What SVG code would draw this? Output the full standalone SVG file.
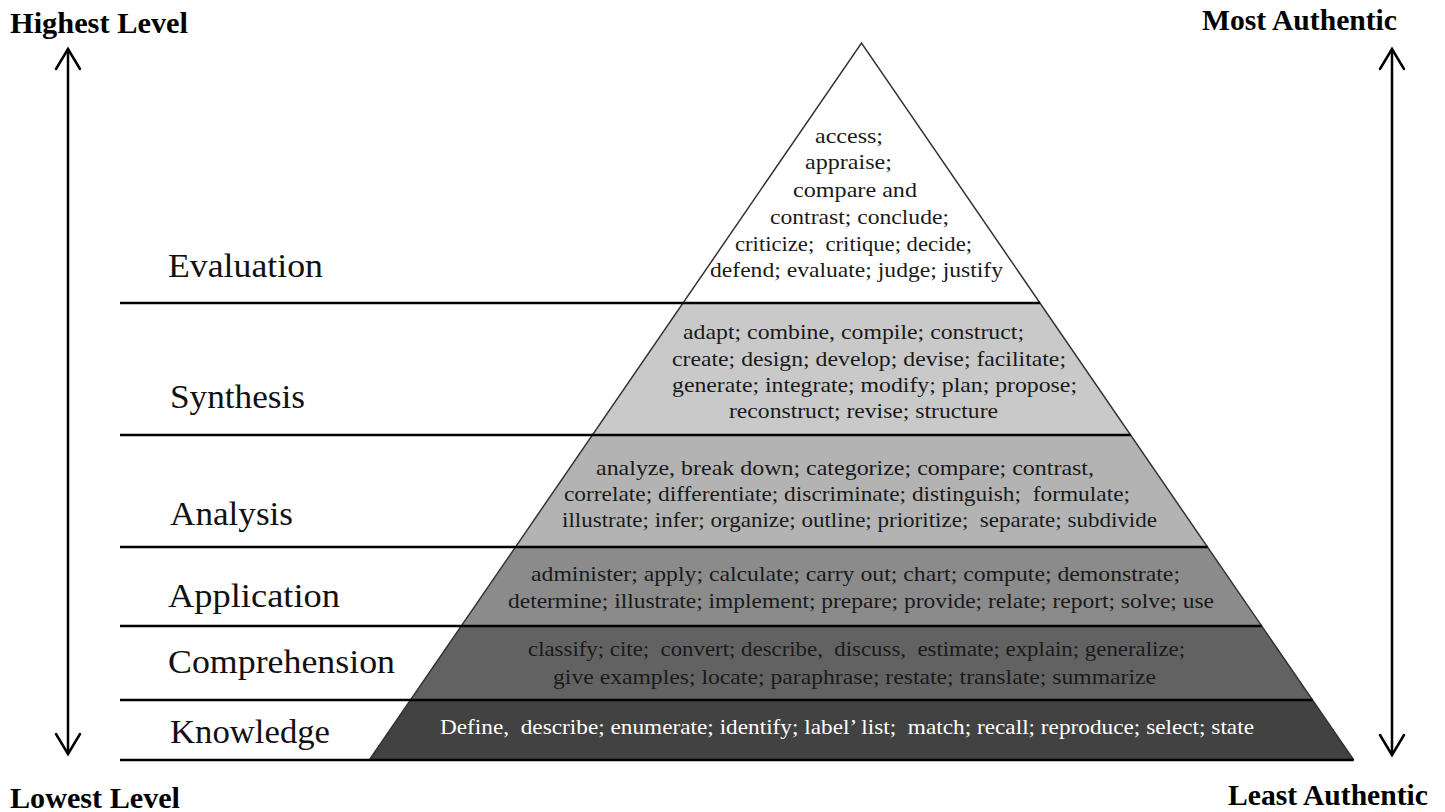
<svg xmlns="http://www.w3.org/2000/svg" width="1445" height="812" viewBox="0 0 1445 812">
  <style>
    .corner { font-family: "Liberation Serif", "Times New Roman", serif; font-size: 29px; font-weight: bold; fill: #000; }
    .level { font-family: "Liberation Serif", "Times New Roman", serif; font-size: 33px; fill: #111; }
    .verbs { font-family: "Liberation Serif", "Times New Roman", serif; font-size: 22px; fill: #1a1a1a; white-space: pre; }
    .verbs-light { font-family: "Liberation Serif", "Times New Roman", serif; font-size: 21px; fill: #fff; white-space: pre; }
    .rule { stroke: #000; stroke-width: 2.5; fill: none; }
    .edge { stroke: #333; stroke-width: 1.5; fill: none; }
    .axis { stroke: #000; stroke-width: 2.5; fill: none; }
    .head { stroke: #000; stroke-width: 2.5; fill: none; stroke-linejoin: miter; stroke-linecap: round; }
  </style>
  <defs>
    <!-- open V head pointing along the path direction -->
    <marker id="chevron" markerUnits="userSpaceOnUse" viewBox="-23 -15 26 30" refX="0" refY="0" markerWidth="26" markerHeight="30" orient="auto-start-reverse">
      <path d="M -20 -12 L 0 0 L -20 12" class="head"/>
    </marker>
  </defs>

  <rect width="1445" height="812" fill="#fff"/>

  <!-- corner captions -->
  <text class="corner" x="10" y="33" textLength="178" lengthAdjust="spacingAndGlyphs">Highest Level</text>
  <text class="corner" x="1202" y="30" textLength="195" lengthAdjust="spacingAndGlyphs">Most Authentic</text>
  <text class="corner" x="10" y="808" textLength="170" lengthAdjust="spacingAndGlyphs">Lowest Level</text>
  <text class="corner" x="1228" y="805" textLength="200" lengthAdjust="spacingAndGlyphs">Least Authentic</text>

  <!-- tiers, top to bottom -->
  <g id="evaluation">
    <polygon points="861.5,43 1040,303 683,303" fill="#fff"/>
    <text class="verbs" x="815" y="143" textLength="68" lengthAdjust="spacingAndGlyphs">access;</text>
    <text class="verbs" x="805" y="169" textLength="87" lengthAdjust="spacingAndGlyphs">appraise;</text>
    <text class="verbs" x="793" y="197" textLength="124" lengthAdjust="spacingAndGlyphs">compare and</text>
    <text class="verbs" x="770" y="224" textLength="179" lengthAdjust="spacingAndGlyphs">contrast; conclude;</text>
    <text class="verbs" x="735" y="251" textLength="237" lengthAdjust="spacingAndGlyphs">criticize;  critique; decide;</text>
    <text class="verbs" x="710" y="277" textLength="293" lengthAdjust="spacingAndGlyphs">defend; evaluate; judge; justify</text>
    <text class="level" x="168" y="277" textLength="155" lengthAdjust="spacingAndGlyphs">Evaluation</text>
  </g>

  <g id="synthesis">
    <polygon points="683,303 1040,303 1130.6,435 592.4,435" fill="#c9c9c9"/>
    <text class="verbs" x="683" y="339" textLength="341" lengthAdjust="spacingAndGlyphs">adapt; combine, compile; construct;</text>
    <text class="verbs" x="672" y="366" textLength="394" lengthAdjust="spacingAndGlyphs">create; design; develop; devise; facilitate;</text>
    <text class="verbs" x="672" y="392" textLength="405" lengthAdjust="spacingAndGlyphs">generate; integrate; modify; plan; propose;</text>
    <text class="verbs" x="729" y="418" textLength="269" lengthAdjust="spacingAndGlyphs">reconstruct; revise; structure</text>
    <text class="level" x="170" y="408" textLength="135" lengthAdjust="spacingAndGlyphs">Synthesis</text>
  </g>

  <g id="analysis">
    <polygon points="592.4,435 1130.6,435 1207.5,547 515.5,547" fill="#b3b3b3"/>
    <text class="verbs" x="596" y="475" textLength="498" lengthAdjust="spacingAndGlyphs">analyze, break down; categorize; compare; contrast,</text>
    <text class="verbs" x="564" y="501" textLength="566" lengthAdjust="spacingAndGlyphs">correlate; differentiate; discriminate; distinguish;  formulate;</text>
    <text class="verbs" x="562" y="527" textLength="595" lengthAdjust="spacingAndGlyphs">illustrate; infer; organize; outline; prioritize;  separate; subdivide</text>
    <text class="level" x="170" y="525" textLength="123" lengthAdjust="spacingAndGlyphs">Analysis</text>
  </g>

  <g id="application">
    <polygon points="515.5,547 1207.5,547 1261.7,626 461.3,626" fill="#8b8b8b"/>
    <text class="verbs" x="531" y="581" textLength="649" lengthAdjust="spacingAndGlyphs">administer; apply; calculate; carry out; chart; compute; demonstrate;</text>
    <text class="verbs" x="508" y="608" textLength="706" lengthAdjust="spacingAndGlyphs">determine; illustrate; implement; prepare; provide; relate; report; solve; use</text>
    <text class="level" x="168" y="607" textLength="172" lengthAdjust="spacingAndGlyphs">Application</text>
  </g>

  <g id="comprehension">
    <polygon points="461.3,626 1261.7,626 1312.5,700 410.5,700" fill="#626262"/>
    <text class="verbs" x="528" y="656" textLength="657" lengthAdjust="spacingAndGlyphs">classify; cite;  convert; describe,  discuss,  estimate; explain; generalize;</text>
    <text class="verbs" x="553" y="684" textLength="603" lengthAdjust="spacingAndGlyphs">give examples; locate; paraphrase; restate; translate; summarize</text>
    <text class="level" x="168" y="673" textLength="227" lengthAdjust="spacingAndGlyphs">Comprehension</text>
  </g>

  <g id="knowledge">
    <polygon points="410.5,700 1312.5,700 1353.7,760 369.3,760" fill="#424242"/>
    <text class="verbs-light" x="440" y="734" textLength="814" lengthAdjust="spacingAndGlyphs">Define,  describe; enumerate; identify; label’ list;  match; recall; reproduce; select; state</text>
    <text class="level" x="170" y="743" textLength="160" lengthAdjust="spacingAndGlyphs">Knowledge</text>
  </g>

  <!-- pyramid sides and tier rules -->
  <g id="frame">
    <polyline class="edge" points="369.3,760 861.5,43 1353.7,760"/>
    <line class="rule" x1="120" y1="303" x2="1040" y2="303"/>
    <line class="rule" x1="120" y1="435" x2="1130.6" y2="435"/>
    <line class="rule" x1="120" y1="547" x2="1207.5" y2="547"/>
    <line class="rule" x1="120" y1="626" x2="1261.7" y2="626"/>
    <line class="rule" x1="120" y1="700" x2="1312.5" y2="700"/>
    <line class="rule" x1="120" y1="760" x2="1353.7" y2="760"/>
  </g>

  <!-- double-headed scale arrows -->
  <g id="connectors">
    <line class="axis" x1="68" y1="49" x2="68" y2="754" marker-start="url(#chevron)" marker-end="url(#chevron)"/>
    <line class="axis" x1="1392" y1="49" x2="1392" y2="755" marker-start="url(#chevron)" marker-end="url(#chevron)"/>
  </g>
</svg>
